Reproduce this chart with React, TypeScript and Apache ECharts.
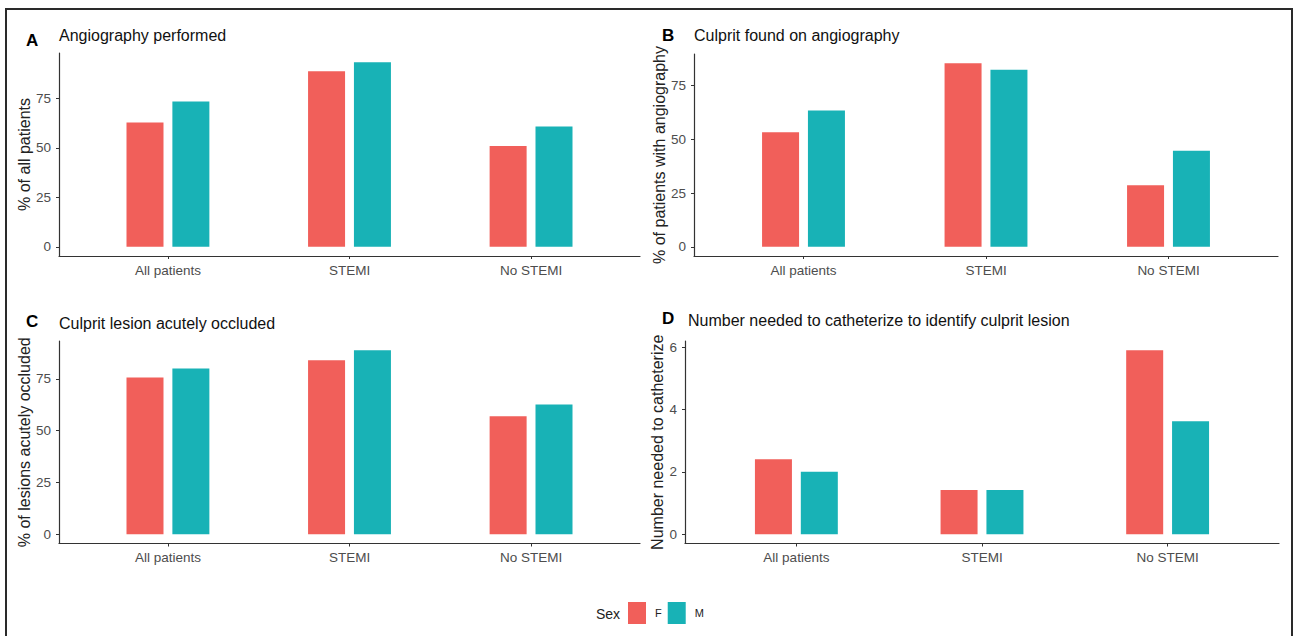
import React, { useEffect, useRef } from "react";
import * as echarts from "echarts";

const categories = ["All patients", "STEMI", "No STEMI"];
const sexes = ["F", "M"];

const angioF = [62.7, 88.7, 50.9];
const angioM = [73.4, 93.2, 60.7];
const culpritF = [53.4, 85.5, 28.7];
const culpritM = [63.5, 82.5, 44.7];
const occludedF = [75.6, 84.0, 57.0];
const occludedM = [80.0, 88.8, 62.6];
const nntF = [2.41, 1.42, 5.91];
const nntM = [2.01, 1.42, 3.63];

const pctTicks = [0, 25, 50, 75];
const nntTicks = [0, 2, 4, 6];
const catTicks = [1, 2, 3];

const panelLetters = ["A", "B", "C", "D"];
const panelTitles = [
  "Angiography performed",
  "Culprit found on angiography",
  "Culprit lesion acutely occluded",
  "Number needed to catheterize to identify culprit lesion",
];
const yNames = [
  "% of all patients",
  "% of patients with angiography",
  "% of lesions acutely occluded",
  "Number needed to catheterize",
];

const COLOR_F = "#F15F5A";
const COLOR_M = "#18B2B6";
const FONT = "'Liberation Sans', Arial, Helvetica, sans-serif";
const AXIS = "#333333";
const TICKTXT = "#4D4D4D";

export default function App() {
  const ref = useRef<HTMLDivElement>(null);

  useEffect(() => {
    if (!ref.current) return;
    const chart = echarts.init(ref.current, undefined, { renderer: "svg" });

    const panels = [
      { f: angioF, m: angioM, ticks: pctTicks },
      { f: culpritF, m: culpritM, ticks: pctTicks },
      { f: occludedF, m: occludedM, ticks: pctTicks },
      { f: nntF, m: nntM, ticks: nntTicks },
    ];

    const grids = [
      { left: 59, top: 53, width: 581, height: 203 },
      { left: 694, top: 54, width: 584, height: 202 },
      { left: 59, top: 341, width: 581, height: 202.5 },
      { left: 685, top: 341, width: 594, height: 202.5 },
    ];
    const nameGaps = [24, 15, 24, 4];

    const xAxes = panels.map((_, i) => ({
      type: "value",
      gridIndex: i,
      min: 0.4,
      max: 3.6,
      axisLine: { show: true, onZero: false, lineStyle: { color: AXIS, width: 1.2 } },
      axisTick: { show: true, length: 3, customValues: catTicks, lineStyle: { color: AXIS } },
      splitLine: { show: false },
      axisLabel: {
        show: true,
        customValues: catTicks,
        formatter: (v: number) => categories[Math.round(v) - 1] ?? "",
        color: TICKTXT,
        fontSize: 13.5,
        fontFamily: FONT,
        margin: 7,
      },
    }));

    const yAxes = panels.map((p, i) => {
      const mx = Math.max(...p.f, ...p.m);
      return {
        type: "value",
        gridIndex: i,
        min: -0.05 * mx,
        max: 1.05 * mx,
        name: yNames[i],
        nameLocation: "middle",
        nameGap: nameGaps[i],
        nameTextStyle: { color: "#222", fontSize: 16, fontFamily: FONT },
        axisLine: { show: true, onZero: false, lineStyle: { color: AXIS, width: 1.2 } },
        axisTick: { show: true, length: 3, customValues: p.ticks, lineStyle: { color: AXIS } },
        splitLine: { show: false },
        axisLabel: {
          show: true,
          customValues: p.ticks,
          color: TICKTXT,
          fontSize: 13.5,
          fontFamily: FONT,
          margin: 8,
        },
      };
    });

    const series: any[] = [];
    panels.forEach((p, i) => {
      [p.f, p.m].forEach((vals, k) => {
        series.push({
          type: "bar",
          name: sexes[k],
          xAxisIndex: i,
          yAxisIndex: i,
          barWidth: 37,
          barGap: "24%",
          itemStyle: { color: k === 0 ? COLOR_F : COLOR_M },
          data: vals.map((v, j) => [catTicks[j], v]),
        });
      });
    });

    const letterPos = [
      { x: 26, y: 40.5 },
      { x: 662, y: 35 },
      { x: 26, y: 321 },
      { x: 662, y: 318.5 },
    ];
    const titlePos = [
      { x: 59, y: 35.5 },
      { x: 694, y: 35.5 },
      { x: 59, y: 323 },
      { x: 688, y: 320 },
    ];

    const graphics: any[] = [
      {
        type: "rect",
        shape: { x: 6, y: 9, width: 1286, height: 700 },
        style: { fill: "none", stroke: "#2a2a2a", lineWidth: 2 },
        silent: true,
      },
      {
        type: "text",
        x: 596,
        y: 613.5,
        style: {
          text: "Sex",
          fill: "#222",
          font: `14px ${FONT}`,
          verticalAlign: "middle",
        },
      },
    ];
    panelLetters.forEach((l, i) => {
      graphics.push({
        type: "text",
        x: letterPos[i].x,
        y: letterPos[i].y,
        style: {
          text: l,
          fill: "#000",
          font: `bold 17px ${FONT}`,
          verticalAlign: "middle",
        },
      });
      graphics.push({
        type: "text",
        x: titlePos[i].x,
        y: titlePos[i].y,
        style: {
          text: panelTitles[i],
          fill: "#111",
          font: `16px ${FONT}`,
          verticalAlign: "middle",
        },
      });
    });

    chart.setOption({
      animation: false,
      backgroundColor: "#ffffff",
      textStyle: { fontFamily: FONT },
      grid: grids.map((g) => ({ ...g, containLabel: false })),
      xAxis: xAxes,
      yAxis: yAxes,
      series,
      legend: {
        data: sexes,
        left: 628,
        top: 602,
        padding: 0,
        itemWidth: 18,
        itemHeight: 22,
        itemGap: 6,
        icon: "rect",
        selectedMode: false,
        textStyle: { fontSize: 11, color: "#222", fontFamily: FONT, padding: [0, 0, 0, 4] },
      },
      graphic: graphics,
    });

    return () => chart.dispose();
  }, []);

  return (
    <div
      ref={ref}
      style={{ position: "fixed", left: 0, top: 0, width: 1293, height: 636 }}
    />
  );
}
